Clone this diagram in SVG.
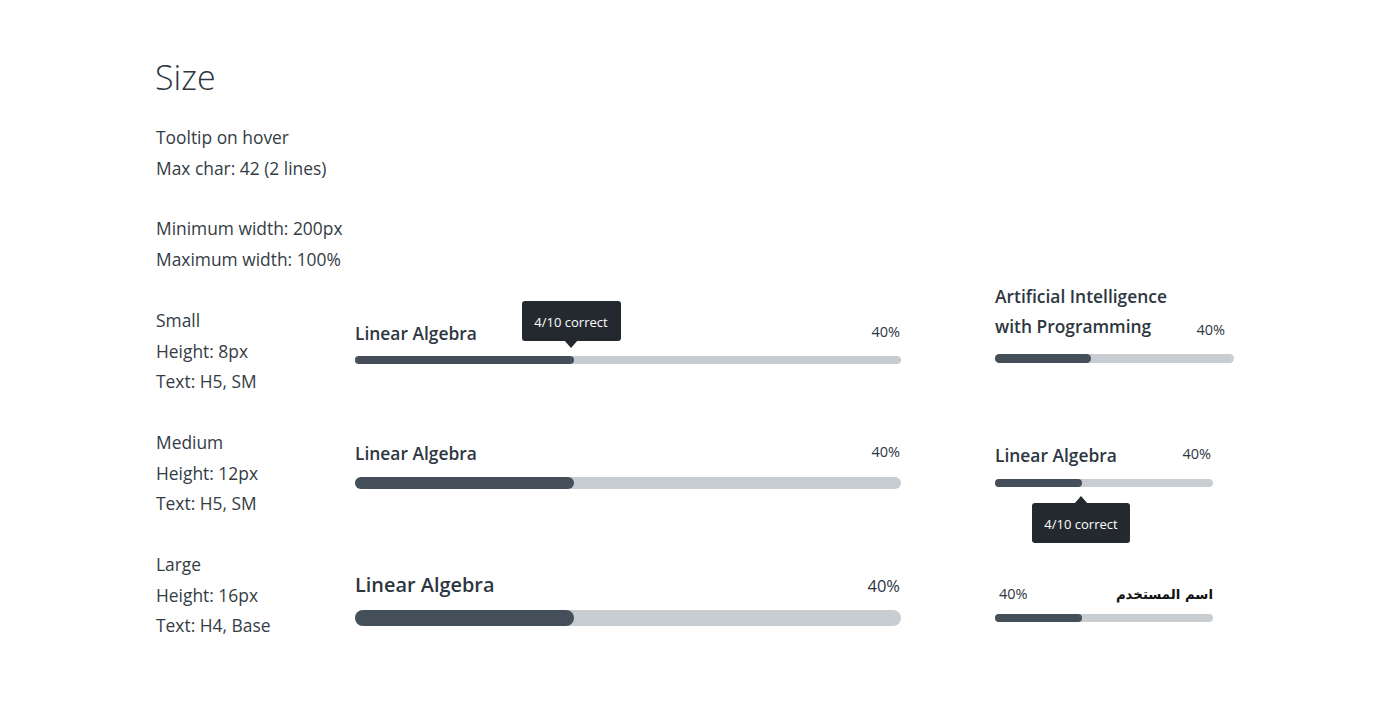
<svg xmlns="http://www.w3.org/2000/svg" width="1396" height="722" viewBox="0 0 1396 722">
<style>
text{font-family:"Open Sans","Noto Sans",sans-serif;fill:#2e363f}
.h{font-size:34px;font-weight:300}
.b{font-size:17.4px;fill:#343c45}
.lbl{font-size:17.4px;font-weight:600}
.lblL{font-size:19.9px;font-weight:600}
.pct{font-size:14.5px}
.pctL{font-size:16.5px}
.tt{fill:#24292f}
.ttx{font-size:13px;fill:#ffffff;text-anchor:middle}
.track{fill:#c8cdd1}
.fill{fill:#454f59}
.ar{font-family:"DejaVu Sans","Noto Sans",sans-serif;font-size:13.3px;font-weight:bold;fill:#111}
</style>
<rect width="1396" height="722" fill="#ffffff"/>
<g id="heading">
<text class="h" x="155" y="90">Size</text>
<text class="b" x="156" y="144">Tooltip on hover</text>
<text class="b" x="156" y="175">Max char: 42 (2 lines)</text>
<text class="b" x="156" y="235">Minimum width: 200px</text>
<text class="b" x="156" y="266">Maximum width: 100%</text>
</g>
<g id="desc-small">
<text class="b" x="156" y="327">Small</text>
<text class="b" x="156" y="358">Height: 8px</text>
<text class="b" x="156" y="388">Text: H5, SM</text>
</g>
<g id="desc-medium">
<text class="b" x="156" y="449">Medium</text>
<text class="b" x="156" y="480">Height: 12px</text>
<text class="b" x="156" y="510">Text: H5, SM</text>
</g>
<g id="desc-large">
<text class="b" x="156" y="571">Large</text>
<text class="b" x="156" y="602">Height: 16px</text>
<text class="b" x="156" y="632">Text: H4, Base</text>
</g>
<g id="bar-small">
<text class="lbl" x="355" y="340">Linear Algebra</text>
<text class="pct" x="900" y="337" text-anchor="end">40%</text>
<rect class="track" x="355" y="356" width="546" height="8" rx="4"/>
<rect class="fill" x="355" y="356" width="219" height="8" rx="4"/>
</g>
<g id="tooltip-small">
<rect class="tt" x="522" y="301" width="99" height="40" rx="3"/>
<path class="tt" d="M564 340 L571 348 L578 340 Z"/>
<text class="ttx" x="571" y="327">4/10 correct</text>
</g>
<g id="bar-medium">
<text class="lbl" x="355" y="460">Linear Algebra</text>
<text class="pct" x="900" y="457" text-anchor="end">40%</text>
<rect class="track" x="355" y="477" width="546" height="12" rx="6"/>
<rect class="fill" x="355" y="477" width="219" height="12" rx="6"/>
</g>
<g id="bar-large">
<text class="lblL" x="355" y="592">Linear Algebra</text>
<text class="pctL" x="900" y="592" text-anchor="end">40%</text>
<rect class="track" x="355" y="610" width="546" height="16" rx="8"/>
<rect class="fill" x="355" y="610" width="219" height="16" rx="8"/>
</g>
<g id="bar-ai">
<text class="lbl" x="995" y="303">Artificial Intelligence</text>
<text class="lbl" x="995" y="333">with Programming</text>
<text class="pct" x="1225" y="335" text-anchor="end">40%</text>
<rect class="track" x="995" y="354" width="239" height="9" rx="4.5"/>
<rect class="fill" x="995" y="354" width="96" height="9" rx="4.5"/>
</g>
<g id="bar-narrow">
<text class="lbl" x="995" y="462">Linear Algebra</text>
<text class="pct" x="1211" y="459" text-anchor="end">40%</text>
<rect class="track" x="995" y="479" width="218" height="8" rx="4"/>
<rect class="fill" x="995" y="479" width="87" height="8" rx="4"/>
</g>
<g id="tooltip-narrow">
<rect class="tt" x="1032" y="503" width="98" height="40" rx="3"/>
<path class="tt" d="M1074 504 L1081 496 L1088 504 Z"/>
<text class="ttx" x="1081" y="529">4/10 correct</text>
</g>
<g id="bar-rtl">
<text class="pct" x="999" y="599">40%</text>
<text class="ar" x="1213" y="599" text-anchor="start" direction="rtl">اسم المستخدم</text>
<rect class="track" x="995" y="614" width="218" height="8" rx="4"/>
<rect class="fill" x="995" y="614" width="87" height="8" rx="4"/>
</g>
</svg>
